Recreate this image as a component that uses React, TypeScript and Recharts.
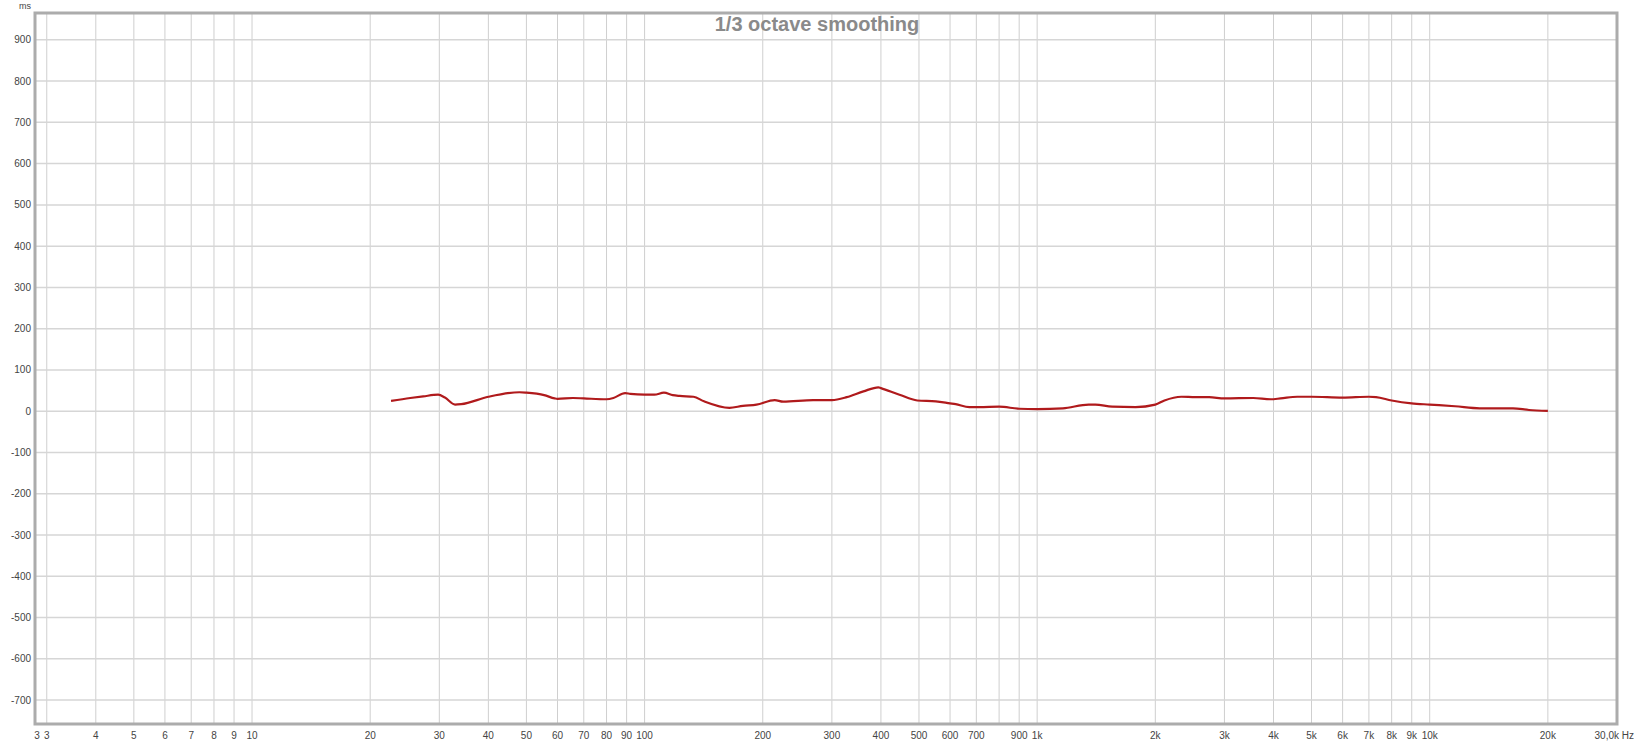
import React from 'react';
import { LineChart, Line, XAxis, YAxis, CartesianGrid, ReferenceArea, Label } from 'recharts';

const freqs = [
  22.6, 25.3, 27.3, 29.8, 31, 32.9, 34.1, 40, 48, 50, 55.5, 59, 60, 65.7, 70, 80, 83.3, 89.2, 92, 100,
  105.9, 112, 118, 122.9, 133.2, 141.7, 164.5, 178, 192.8, 214.5, 225.4, 268.8, 300, 327.3, 361, 394,
  400, 446, 495, 552, 600, 620, 672, 713, 800, 900, 1000, 1163, 1353, 1407, 1553, 1781, 2000, 2110,
  2331, 2528, 2742, 3000, 3554, 3931, 4170, 4597, 5000, 6000, 7000, 7300, 8000, 8990, 10000, 11600,
  13400, 16300, 17900, 20000,
];
const delayMs = [
  25, 32, 36, 40, 33, 16, 17, 35, 46, 45, 39, 31, 30, 32, 31, 29, 32, 44, 42, 40,
  40, 45, 39, 37, 35, 24, 8, 13, 16, 27, 23, 27, 27, 34, 48, 58,
  56, 40, 26, 24, 19, 17, 10, 10, 11, 6, 5, 7, 16, 16, 11, 10, 16, 26,
  35, 34, 34, 31, 32, 29, 31, 35, 35, 33, 35, 34, 26, 19, 16, 12,
  7, 7, 3, 1,
];
const xTicks = [
  2.8, 3, 4, 5, 6, 7, 8, 9, 10, 20, 30, 40, 50, 60, 70, 80, 90, 100, 200, 300, 400, 500, 600, 700, 800,
  900, 1000, 2000, 3000, 4000, 5000, 6000, 7000, 8000, 9000, 10000, 20000, 30000,
];
const yTicks = [900, 800, 700, 600, 500, 400, 300, 200, 100, 0, -100, -200, -300, -400, -500, -600, -700];
const xDomain = [2.8, 30000];
const yDomain = [-758, 965];
const titleText = '1/3 octave smoothing';
const yUnit = 'ms';

const data = freqs.map((f, i) => ({ f, v: delayMs[i] }));

const FONT = '"Liberation Sans", Arial, sans-serif';

function fmtX(v: number): string {
  if (v === 2.8) return '3';
  if (v === 800) return '';
  if (v === 30000) return '30,0k Hz';
  if (v >= 1000) return `${v / 1000}k`;
  return String(v);
}

const XTick = (props: any) => {
  const { x, payload } = props;
  const v = payload.value;
  let tx = x;
  let anchor: 'middle' | 'end' = 'middle';
  if (v === 2.8) tx = x + 2;
  if (v === 30000) {
    tx = x + 17;
    anchor = 'end';
  }
  return (
    <text x={tx} y={738.5} textAnchor={anchor} fontSize={10} fontFamily={FONT} fill="#444">
      {fmtX(v)}
    </text>
  );
};

const YTick = (props: any) => {
  const { y, payload } = props;
  return (
    <text x={31} y={y + 3.5} textAnchor="end" fontSize={10} fontFamily={FONT} fill="#444">
      {payload.value}
    </text>
  );
};

export default function App() {
  return (
    <div style={{ position: 'absolute', left: 0, top: 0, width: 1634, height: 744, background: '#fff' }}>
      <LineChart width={1634} height={744} data={data} margin={{ top: 13, right: 17, bottom: 0, left: 0 }}>
        <CartesianGrid horizontal={false} stroke="#cfcfcf" strokeWidth={1} />
        <CartesianGrid vertical={false} stroke="#d6d6d6" strokeWidth={1.5} />
        <XAxis
          dataKey="f"
          type="number"
          scale="log"
          domain={xDomain}
          allowDataOverflow
          ticks={xTicks}
          interval={0}
          height={20}
          tickLine={false}
          axisLine={false}
          tick={<XTick />}
        />
        <YAxis
          type="number"
          domain={yDomain}
          allowDataOverflow
          ticks={yTicks}
          interval={0}
          width={35}
          tickLine={false}
          axisLine={false}
          tick={<YTick />}
        >
          <Label
            content={() => (
              <text x={31} y={9} textAnchor="end" fontSize={9} fontFamily={FONT} fill="#444">
                {yUnit}
              </text>
            )}
          />
        </YAxis>
        <ReferenceArea
          x1={xDomain[0]}
          x2={xDomain[1]}
          y1={yDomain[0]}
          y2={yDomain[1]}
          fill="none"
          stroke="#acacac"
          strokeWidth={3}
          ifOverflow="visible"
        >
          <Label
            content={() => (
              <text x={817} y={30.5} textAnchor="middle" fontSize={20} fontWeight="bold" fontFamily={FONT} fill="#8a8a8a">
                {titleText}
              </text>
            )}
          />
        </ReferenceArea>
        <Line
          dataKey="v"
          type="monotone"
          stroke="#b01a1c"
          strokeWidth={2.2}
          dot={false}
          isAnimationActive={false}
        />
      </LineChart>
    </div>
  );
}
